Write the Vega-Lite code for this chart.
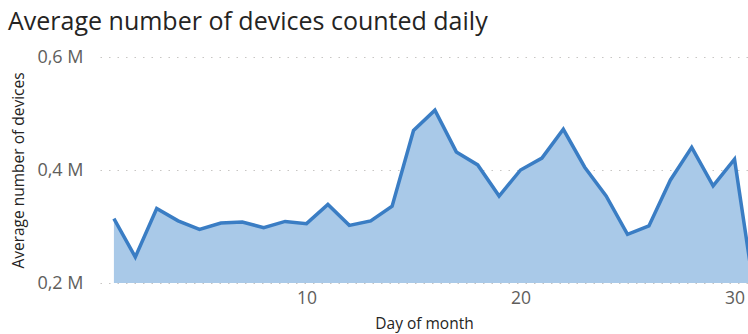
{
  "$schema": "https://vega.github.io/schema/vega-lite/v6.json",
  "autosize": "none",
  "width": 648,
  "height": 226,
  "padding": {"left": 100, "top": 57, "right": 0, "bottom": 51},
  "background": "white",
  "title": {
    "text": "Average number of devices counted daily",
    "anchor": "start",
    "frame": "group",
    "baseline": "alphabetic",
    "dx": -92,
    "dy": 27,
    "offset": 20,
    "font": "Open Sans",
    "fontSize": 25,
    "fontWeight": "normal",
    "color": "#252423"
  },
  "config": {
    "view": {"stroke": null},
    "axis": {"domain": false, "ticks": false}
  },
  "data": {
    "values": [
      {"day": 1, "devices": 314000},
      {"day": 2, "devices": 246000},
      {"day": 3, "devices": 332000},
      {"day": 4, "devices": 310000},
      {"day": 5, "devices": 295000},
      {"day": 6, "devices": 306000},
      {"day": 7, "devices": 308000},
      {"day": 8, "devices": 298000},
      {"day": 9, "devices": 309000},
      {"day": 10, "devices": 305000},
      {"day": 11, "devices": 339000},
      {"day": 12, "devices": 302000},
      {"day": 13, "devices": 310000},
      {"day": 14, "devices": 336000},
      {"day": 15, "devices": 470000},
      {"day": 16, "devices": 506000},
      {"day": 17, "devices": 432000},
      {"day": 18, "devices": 409000},
      {"day": 19, "devices": 354000},
      {"day": 20, "devices": 400000},
      {"day": 21, "devices": 421000},
      {"day": 22, "devices": 472000},
      {"day": 23, "devices": 405000},
      {"day": 24, "devices": 354000},
      {"day": 25, "devices": 286000},
      {"day": 26, "devices": 301000},
      {"day": 27, "devices": 382000},
      {"day": 28, "devices": 440000},
      {"day": 29, "devices": 372000},
      {"day": 30, "devices": 419000},
      {"day": 31, "devices": 165000}
    ]
  },
  "encoding": {
    "x": {
      "field": "day",
      "type": "quantitative",
      "scale": {"domain": [0.35, 30.63], "nice": false, "zero": false},
      "axis": {
        "title": "Day of month",
        "values": [10, 20, 30],
        "grid": false,
        "labelFont": "Open Sans",
        "labelFontSize": 17.5,
        "labelColor": "#605E5C",
        "labelPadding": 6,
        "labelFlush": false,
        "titleFont": "Open Sans",
        "titleFontSize": 15.5,
        "titleFontWeight": "normal",
        "titleColor": "#252423",
        "titlePadding": 10
      }
    },
    "y": {
      "field": "devices",
      "type": "quantitative",
      "scale": {"domain": [200000, 600000], "nice": false, "zero": false},
      "axis": {
        "title": "Average number of devices",
        "values": [200000, 400000, 600000],
        "labelExpr": "replace(format(datum.value / 1000000, '.1f'), '.', ',') + ' M'",
        "grid": true,
        "gridColor": "#C8C6C4",
        "gridDash": [1.5, 7],
        "gridWidth": 1.2,
        "labelFont": "Open Sans",
        "labelFontSize": 18,
        "labelColor": "#605E5C",
        "labelPadding": 17,
        "titleFont": "Open Sans",
        "titleFontSize": 15.5,
        "titleFontWeight": "normal",
        "titleColor": "#252423",
        "titlePadding": 10
      }
    }
  },
  "layer": [
    {
      "mark": {"type": "area", "color": "#A9C9E8", "opacity": 1, "clip": true}
    },
    {
      "mark": {"type": "line", "color": "#3A7DC4", "strokeWidth": 3.5, "strokeJoin": "miter", "clip": true}
    }
  ]
}
